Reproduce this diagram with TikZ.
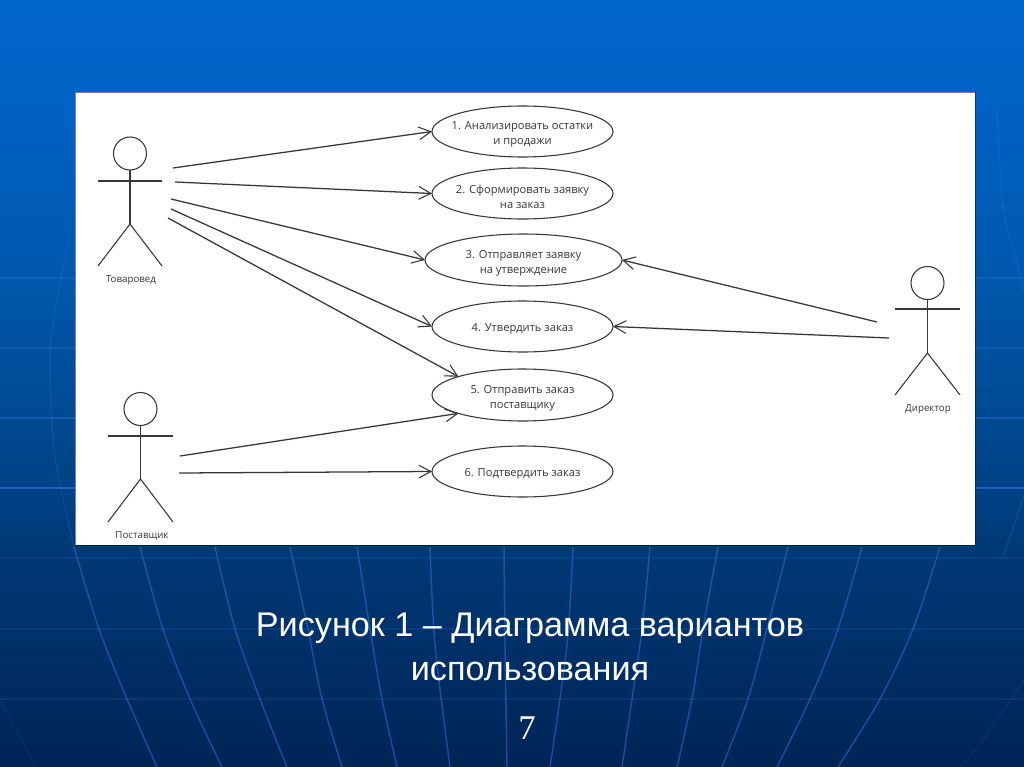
\documentclass[tikz,border=0pt]{standalone}
\usepackage{fontspec}
\setmainfont{Liberation Sans}
\newfontfamily\umlfont{Open Sans}
\newfontfamily\numfont{Liberation Serif}
\usetikzlibrary{arrows.meta,shapes.geometric}
\definecolor{bgA}{RGB}{0,101,203}
\definecolor{bgB}{RGB}{0,98,196}
\definecolor{bgC}{RGB}{0,88,172}
\definecolor{bgD}{RGB}{0,66,132}
\definecolor{bgE}{RGB}{0,56,116}
\definecolor{bgF}{RGB}{0,36,86}
\definecolor{gridc}{RGB}{40,120,225}
\definecolor{inkc}{RGB}{55,55,55}
\pgfdeclareverticalshading{slidebg}{100bp}{
 color(0bp)=(bgF); color(25bp)=(bgF); color(38.5bp)=(bgE); color(43bp)=(bgD); color(57bp)=(bgC); color(68.5bp)=(bgB); color(75bp)=(bgA); color(100bp)=(bgA)}
\tikzset{
 x=0.75pt,y=-0.75pt,
 usecase/.style={ellipse,draw=inkc,line width=0.8pt,fill=white,inner sep=0pt,outer sep=0pt,
   minimum width=181*0.75pt,minimum height=51*0.75pt},
 casetext/.style={align=center,text=inkc,inner sep=0pt,yshift=-2.3pt,
   font=\umlfont\fontsize{8.35pt}{11.3pt}\selectfont},
 casetextone/.style={casetext,yshift=0.7pt},
 actorlabel/.style={text=inkc,inner sep=0pt,font=\umlfont\fontsize{7.3pt}{9pt}\selectfont},
 head/.style={circle,draw=inkc,line width=0.8pt,inner sep=0pt,outer sep=0pt,minimum size=33*0.75pt},
 limb/.style={draw=inkc,line width=0.8pt},
 assoc/.style={draw=inkc,line width=0.95pt,-{Straight Barb[length=9pt,width=9.5pt,line width=0.8pt]}},
 gridh/.style={draw=gridc,line width=1pt},
 gridv/.style={draw=gridc,line width=1.1pt,smooth},
 caption/.style={text=white,inner sep=0pt,align=center,font=\fontsize{25.65pt}{33pt}\selectfont},
 pageno/.style={text=white,inner sep=0pt,font=\numfont\fontsize{26pt}{30pt}\selectfont},
}
\newcommand{\hgrid}[2]{\draw[gridh,opacity=#2] (0,#1) -- (1024,#1);}
\begin{document}
\begin{tikzpicture}
\useasboundingbox (0,0) rectangle (1024,767);
\shade[shading=slidebg] (0,0) rectangle (1024,767);
% background grid
\hgrid{138}{0.1}\hgrid{208}{0.15}\hgrid{278}{0.3}\hgrid{348}{0.3}\hgrid{418}{0.4}\hgrid{488}{0.6}
\hgrid{558}{0.15}\hgrid{629}{0.18}\hgrid{699}{0.16}
\begin{scope}[opacity=0.5]
\draw[gridv] plot coordinates {(74,547) (99,629) (127,699) (157,767)};
\draw[gridv] plot coordinates {(140,547) (163,629) (190,699) (222,767)};
\draw[gridv] plot coordinates {(215,547) (235,629) (260,699) (287,767)};
\draw[gridv] plot coordinates {(290,547) (308,629) (322,699) (342,767)};
\draw[gridv] plot coordinates {(357,547) (370,629) (382,699) (397,767)};
\draw[gridv] plot coordinates {(430,547) (435,645) (450,767)};
\draw[gridv] plot coordinates {(504,547) (505,645) (507,767)};
\draw[gridv] plot coordinates {(573,547) (567,645) (550,767)};
\draw[gridv] plot coordinates {(650,547) (642,629) (632,699) (622,767)};
\draw[gridv] plot coordinates {(718,547) (703,629) (692,699) (677,767)};
\draw[gridv] plot coordinates {(788,547) (767,629) (748,699) (722,767)};
\draw[gridv] plot coordinates {(862,547) (838,629) (810,699) (777,767)};
\draw[gridv] plot coordinates {(940,547) (913,629) (880,699) (838,767)};
\end{scope}
\begin{scope}[opacity=0.22]
\draw[gridv] plot coordinates {(68,240) (53,323) (50,373) (55,457) (74,547)};
\draw[gridv] plot coordinates {(997,110) (1003,207) (1017,263) (1024,292)};
\draw[gridv] plot coordinates {(1003,557) (1024,495)};
\end{scope}
\begin{scope}[opacity=0.1]
\draw[gridv] plot coordinates {(1024,680) (983,740) (960,767)};
\draw[gridv] plot coordinates {(0,700) (25,747) (35,767)};
\end{scope}
% panel
\fill[white,draw=black!55!blue,draw opacity=0.5,line width=0.6pt] (75,92) rectangle (975,545);
% use cases
\node[usecase,label={[casetext]center:1. Анализировать остатки\\и продажи}] (u1) at (522.5,131.5) {};
\node[usecase,label={[casetext]center:2. Сформировать заявку\\на заказ}] (u2) at (522.5,193.5) {};
\node[usecase,minimum width=197*0.75pt,minimum height=52*0.75pt,label={[casetext]center:3. Отправляет заявку\\на утверждение}] (u3) at (523.5,260) {};
\node[usecase,label={[casetextone]center:4. Утвердить заказ}] (u4) at (522.5,326.5) {};
\node[usecase,minimum height=52*0.75pt,label={[casetext]center:5. Отправить заказ\\поставщику}] (u5) at (522.5,395) {};
\node[usecase,label={[casetextone]center:6. Подтвердить заказ}] (u6) at (522.5,471.5) {};
% actors
\node[head] (hT) at (130,153.5) {};
\coordinate (aTl) at (98,181); \coordinate (aTr) at (162,181);
\coordinate (hipT) at (130,224); \coordinate (fTl) at (98,266); \coordinate (fTr) at (162,266);
\draw[limb] (hT) -- (hipT); \draw[limb] (aTl) -- (aTr); \draw[limb] (fTl) -- (hipT) -- (fTr);
\node[actorlabel] (lT) at (131,280) {Товаровед};
\node[head] (hS) at (140.5,409) {};
\coordinate (aSl) at (108,436); \coordinate (aSr) at (173,436);
\coordinate (hipS) at (140.5,479); \coordinate (fSl) at (108,522); \coordinate (fSr) at (173,522);
\draw[limb] (hS) -- (hipS); \draw[limb] (aSl) -- (aSr); \draw[limb] (fSl) -- (hipS) -- (fSr);
\node[actorlabel] (lS) at (142,535.5) {Поставщик};
\node[head] (hD) at (927.5,283) {};
\coordinate (aDl) at (895,309); \coordinate (aDr) at (960,309);
\coordinate (hipD) at (927.5,353); \coordinate (fDl) at (895,395); \coordinate (fDr) at (960,395);
\draw[limb] (hD) -- (hipD); \draw[limb] (aDl) -- (aDr); \draw[limb] (fDl) -- (hipD) -- (fDr);
\node[actorlabel] (lD) at (928,409) {Директор};
% connector free ends
\coordinate (t1) at (173,168); \coordinate (t2) at (175,182); \coordinate (t3) at (171,199);
\coordinate (t4) at (171,209); \coordinate (t5) at (168,218);
\coordinate (s5) at (180,456); \coordinate (s6) at (179,473);
\coordinate (d3) at (877,322); \coordinate (d4) at (889,338);
\draw[assoc] (t1) -- (u1.west);
\draw[assoc] (t2) -- (u2.west);
\draw[assoc] (t3) -- (u3.west);
\draw[assoc] (t4) -- (u4.west);
\draw[assoc] (t5) -- (u5.164);
\draw[assoc] (s5) -- (u5.196);
\draw[assoc] (s6) -- (u6.west);
\draw[assoc] (d3) -- (u3.east);
\draw[assoc] (d4) -- (u4.east);
% caption
\node[caption] (cap) at (530,647) {Рисунок 1 – Диаграмма вариантов\\использования};
\node[pageno] (pg) at (527,728) {7};
\end{tikzpicture}
\end{document}
